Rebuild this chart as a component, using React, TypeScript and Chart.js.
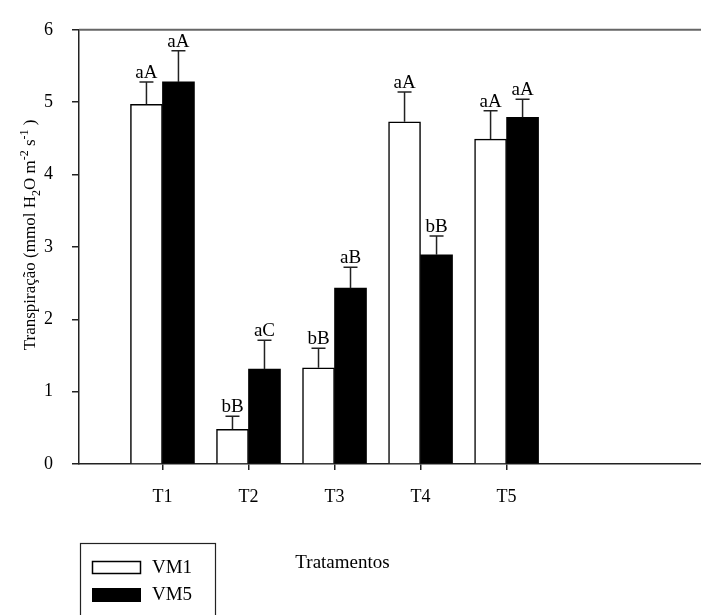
import React, { useEffect, useRef } from "react";
import { Chart, registerables } from "chart.js";

Chart.register(...registerables);

const categories = ["T1", "T2", "T3", "T4", "T5"];
const vm1Values = [4.97, 0.48, 1.33, 4.73, 4.49];
const vm1Errors = [0.31, 0.18, 0.27, 0.41, 0.39];
const vm5Values = [5.28, 1.31, 2.43, 2.89, 4.79];
const vm5Errors = [0.43, 0.4, 0.29, 0.26, 0.25];
const vm1Letters = ["aA", "bB", "bB", "aA", "aA"];
const vm5Letters = ["aA", "aC", "aB", "bB", "aA"];
const yTicks = [0, 1, 2, 3, 4, 5, 6];
const seriesNames = ["VM1", "VM5"];

const FONT = "'Liberation Serif', 'Times New Roman', serif";
const AXIS = "#222";

const errorPlugin = {
  id: "errorBars",
  afterDatasetsDraw(chart: any) {
    const { ctx } = chart;
    const y = chart.scales.y;
    const sets = [
      { vals: vm1Values, errs: vm1Errors, letters: vm1Letters },
      { vals: vm5Values, errs: vm5Errors, letters: vm5Letters },
    ];
    sets.forEach((s, di) => {
      const meta = chart.getDatasetMeta(di);
      meta.data.forEach((bar: any, i: number) => {
        const top = y.getPixelForValue(s.vals[i]);
        const cap = y.getPixelForValue(s.vals[i] + s.errs[i]);
        ctx.save();
        ctx.strokeStyle = "#222";
        ctx.lineWidth = 1.5;
        ctx.beginPath();
        ctx.moveTo(bar.x, top);
        ctx.lineTo(bar.x, cap);
        ctx.moveTo(bar.x - 7, cap);
        ctx.lineTo(bar.x + 7, cap);
        ctx.stroke();
        ctx.fillStyle = "#000";
        ctx.font = `19px ${FONT}`;
        ctx.textAlign = "center";
        ctx.textBaseline = "alphabetic";
        ctx.fillText(s.letters[i], bar.x, cap - 4);
        ctx.restore();
      });
    });
  },
};

const framePlugin = {
  id: "frame",
  afterDraw(chart: any) {
    const { ctx, chartArea } = chart;
    ctx.save();
    // top border
    ctx.strokeStyle = "#666";
    ctx.lineWidth = 2;
    ctx.beginPath();
    ctx.moveTo(chartArea.left, chartArea.top);
    ctx.lineTo(chartArea.right, chartArea.top);
    ctx.stroke();

    // y title with sub/superscripts
    const size = 17;
    const pieces: { t: string; k: string }[] = [
      { t: "Transpiração (mmol H", k: "n" },
      { t: "2", k: "sub" },
      { t: "O m", k: "n" },
      { t: "-2", k: "sup" },
      { t: " s", k: "n" },
      { t: "-1", k: "sup" },
      { t: " )", k: "n" },
    ];
    const fontFor = (k: string) => (k === "n" ? `${size}px ${FONT}` : `${Math.round(size * 0.68)}px ${FONT}`);
    let total = 0;
    pieces.forEach((p) => {
      ctx.font = fontFor(p.k);
      total += ctx.measureText(p.t).width;
    });
    const cy = (chartArea.top + chartArea.bottom) / 2 - 12;
    ctx.translate(35, cy);
    ctx.rotate(-Math.PI / 2);
    ctx.fillStyle = "#000";
    ctx.textAlign = "left";
    ctx.textBaseline = "alphabetic";
    let x = -total / 2;
    pieces.forEach((p) => {
      ctx.font = fontFor(p.k);
      const dy = p.k === "sub" ? size * 0.3 : p.k === "sup" ? -size * 0.42 : 0;
      ctx.fillText(p.t, x, dy);
      x += ctx.measureText(p.t).width;
    });
    ctx.restore();

    // x title
    ctx.save();
    ctx.fillStyle = "#000";
    ctx.font = `19px ${FONT}`;
    ctx.textAlign = "center";
    ctx.textBaseline = "middle";
    const xs = chart.scales.x;
    ctx.fillText("Tratamentos", xs.getPixelForValue(3) + 8, 563);
    ctx.restore();

    // legend
    ctx.save();
    ctx.strokeStyle = "#222";
    ctx.lineWidth = 1.2;
    ctx.strokeRect(80.5, 543.5, 135, 90);
    ctx.fillStyle = "#fff";
    ctx.fillRect(92, 561, 49, 13);
    ctx.lineWidth = 1.5;
    ctx.strokeStyle = "#000";
    ctx.strokeRect(92.5, 561.5, 48, 12);
    ctx.fillStyle = "#000";
    ctx.fillRect(92, 588, 49, 14);
    ctx.font = `19px ${FONT}`;
    ctx.textAlign = "left";
    ctx.textBaseline = "middle";
    ctx.fillText(seriesNames[0], 152, 568);
    ctx.fillText(seriesNames[1], 152, 595);
    ctx.restore();
  },
};

export default function App() {
  const ref = useRef<HTMLCanvasElement | null>(null);
  useEffect(() => {
    if (!ref.current) return;
    const chart = new Chart(ref.current, {
      type: "bar",
      data: {
        datasets: [
          {
            label: seriesNames[0],
            data: categories.map((_, i) => ({ x: i + 1, y: vm1Values[i] })),
            backgroundColor: "#fff",
            borderColor: "#000",
            borderWidth: 1.5,
            barThickness: 32,
          },
          {
            label: seriesNames[1],
            data: categories.map((_, i) => ({ x: i + 1, y: vm5Values[i] })),
            backgroundColor: "#000",
            borderColor: "#000",
            borderWidth: 0,
            barThickness: 32,
          },
        ] as any,
      },
      options: {
        animation: false,
        responsive: false,
        layout: { padding: { top: 20, right: 0, left: 0, bottom: 0 } },
        plugins: { legend: { display: false }, tooltip: { enabled: false } },
        scales: {
          x: {
            type: "linear",
            min: 0.03,
            max: 7.26,
            offset: false,
            afterBuildTicks: (s: any) => {
              s.ticks = categories.map((_, i) => ({ value: i + 1 }));
            },
            afterFit: (s: any) => {
              s.height = 151;
            },
            ticks: {
              callback: (_v: any, i: number) => categories[i],
              color: "#000",
              font: { family: FONT, size: 18 },
              padding: 16,
              maxRotation: 0,
              autoSkip: false,
            },
            grid: { drawOnChartArea: false, offset: false, tickLength: 6, color: AXIS, lineWidth: 1.5 },
            border: { display: true, color: AXIS, width: 1.5 },
          },
          y: {
            min: 0,
            max: 6,
            afterBuildTicks: (s: any) => {
              s.ticks = yTicks.map((v) => ({ value: v }));
            },
            afterFit: (s: any) => {
              s.width = 79;
            },
            ticks: {
              color: "#000",
              font: { family: FONT, size: 18 },
              padding: 19,
            },
            grid: { drawOnChartArea: false, tickLength: 7, color: AXIS, lineWidth: 1.5 },
            border: { display: true, color: AXIS, width: 1.5 },
          },
        },
      } as any,
      plugins: [errorPlugin, framePlugin],
    });
    return () => chart.destroy();
  }, []);
  return (
    <div style={{ position: "absolute", left: 0, top: 0, width: 701, height: 615, background: "#fff" }}>
      <canvas ref={ref} width={701} height={615} style={{ display: "block" }} />
    </div>
  );
}
